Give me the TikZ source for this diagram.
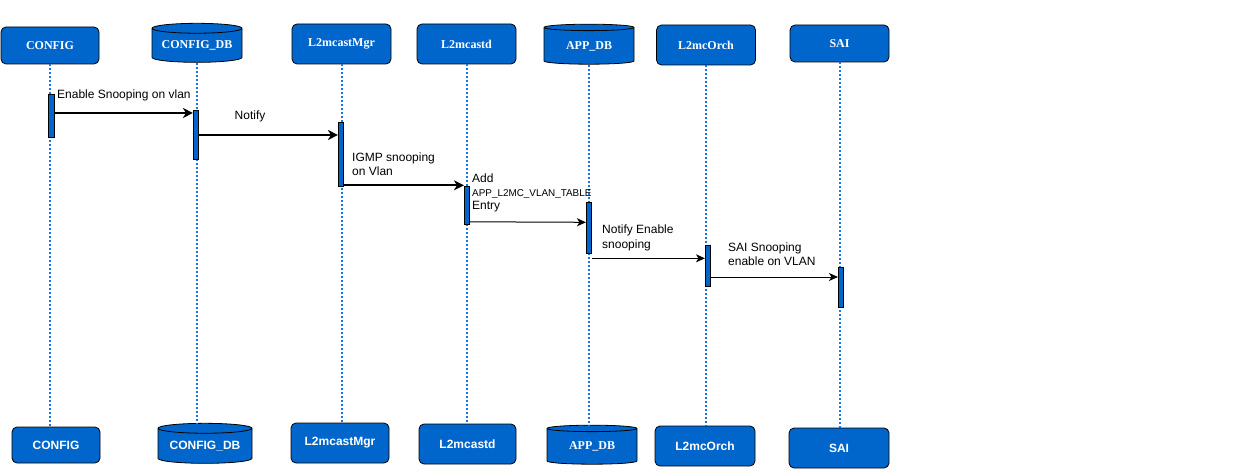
\documentclass[tikz,border=0pt]{standalone}
\usepackage{fontspec}
\setmainfont{Liberation Serif}
\setsansfont{Liberation Sans}
\usetikzlibrary{shapes.geometric,arrows.meta,calc}
\definecolor{dblue}{HTML}{0066CC}
\definecolor{lblue}{HTML}{1A75E0}
\begin{document}
\begin{tikzpicture}[x=1pt,y=-1pt,
  actor/.style={rectangle, rounded corners=5pt, draw=black, line width=0.8pt, fill=dblue, text=white,
    font=\fontsize{12}{14}\selectfont\bfseries, inner sep=0pt},
  dbcyl/.style={cylinder, shape border rotate=90, aspect=0.14, draw=black, line width=0.8pt, fill=dblue,
    text=white, font=\fontsize{12}{14}\selectfont\bfseries, inner sep=0pt},
  sanslabel/.style={font=\fontsize{12}{14}\selectfont\sffamily\bfseries},
  life/.style={lblue, line width=2pt, dash pattern=on 2pt off 2pt},
  actbar/.style={rectangle, draw=black, line width=0.6pt, fill=dblue, minimum width=5.5pt, inner sep=0pt},
  msgthick/.style={line width=2pt, -{Stealth[length=10pt,width=10pt,inset=3pt]}},
  msgthin/.style={line width=1pt, -{Stealth[length=9pt,width=8pt,inset=2.5pt]}},
  msglabel/.style={anchor=west, align=left, inner sep=0pt, font=\fontsize{12}{14.5}\selectfont\sffamily},
]
\useasboundingbox (0,0) rectangle (1255,476);

% header row
\node[actor, minimum width=98pt, minimum height=37pt] (tconfig) at (50,45.5) {CONFIG};
\node[dbcyl, minimum width=90pt, minimum height=39pt] (tcdb) at (197,45.5) {CONFIG\_DB};
\node[actor, minimum width=99pt, minimum height=40pt] (tmgr) at (341.5,44) {L2mcastMgr};
\node[actor, minimum width=99pt, minimum height=40pt] (td) at (466.5,44) {L2mcastd};
\node[dbcyl, minimum width=90pt, minimum height=40pt] (tadb) at (589,46) {APP\_DB};
\node[actor, minimum width=99pt, minimum height=40pt] (torch) at (706,45) {L2mcOrch};
\node[actor, minimum width=99pt, minimum height=37pt] (tsai) at (839.5,43.5) {SAI};

% footer row
\node[actor, sanslabel, minimum width=88pt, minimum height=36pt] (bconfig) at (56,445) {CONFIG};
\node[dbcyl, sanslabel, minimum width=94pt, minimum height=40pt] (bcdb) at (205,446) {CONFIG\_DB};
\node[actor, sanslabel, minimum width=98pt, minimum height=40pt] (bmgr) at (340,443) {L2mcastMgr};
\node[actor, sanslabel, minimum width=97pt, minimum height=40pt] (bd) at (467.5,444) {L2mcastd};
\node[dbcyl, minimum width=90pt, minimum height=39pt] (badb) at (592,446.5) {APP\_DB};
\node[actor, sanslabel, minimum width=100pt, minimum height=40pt] (borch) at (705,446) {L2mcOrch};
\node[actor, sanslabel, minimum width=100pt, minimum height=40pt] (bsai) at (839,448) {SAI};

% lifelines
\draw[life] (tconfig.south) -- (tconfig.south |- bconfig.north);
\draw[life] (tcdb.south) -- (tcdb.south |- bcdb.north);
\draw[life] (tmgr.south) -- (tmgr.south |- bmgr.north);
\draw[life] (td.south) -- (td.south |- bd.north);
\draw[life] (tadb.south) -- (tadb.south |- badb.north);
\draw[life] (torch.south) -- (torch.south |- borch.north);
\draw[life] (tsai.south) -- (tsai.south |- bsai.north);

% activation bars
\node[actbar, minimum height=43pt] (a1) at (51.5,115.5) {};
\node[actbar, minimum height=49pt] (a2) at (196,134.5) {};
\node[actbar, minimum height=64pt] (a3) at (341,154) {};
\node[actbar, minimum height=38pt] (a4) at (467,205) {};
\node[actbar, minimum height=51pt] (a5) at (589,227.5) {};
\node[actbar, minimum height=41pt] (a6) at (708,265.5) {};
\node[actbar, minimum height=40pt] (a7) at (841,287) {};

% messages
\draw[msgthick] ([yshift=2.5pt]a1.east) -- ([yshift=2.5pt]a1.east -| a2.west);
\draw[msgthick] ([yshift=-0.5pt]a2.east) -- ([yshift=-0.5pt]a2.east -| a3.west);
\draw[msgthick] ([yshift=1pt]a3.south east) -- ([yshift=1pt]a3.south east -| a4.west);
\draw[msgthin] ([yshift=2.5pt]a4.south east) -- ([yshift=2pt]a4.south east -| a5.west);
\draw[msgthin] ([yshift=-5pt]a5.south east) -- ([yshift=-5pt]a5.south east -| a6.west);
\draw[msgthin] ([yshift=-11.5pt]a6.east) -- ([yshift=-11.5pt]a6.east -| a7.west);

% labels
\node[msglabel] (l1) at (57,95) {Enable Snooping on vlan};
\node[msglabel, anchor=center] (l2) at (250,116) {Notify};
\node[msglabel] (l3) at (352,164) {IGMP snooping\\on Vlan};
\node[msglabel] (l4) at (472,193) {Add\\[-1pt]{\fontsize{9.9}{11}\selectfont APP\_L2MC\_VLAN\_TABLE}\\[-1pt]Entry};
\node[msglabel] (l5) at (602,238) {Notify Enable\\snooping};
\node[msglabel] (l6) at (728,254) {SAI Snooping\\enable on VLAN};
\end{tikzpicture}
\end{document}
